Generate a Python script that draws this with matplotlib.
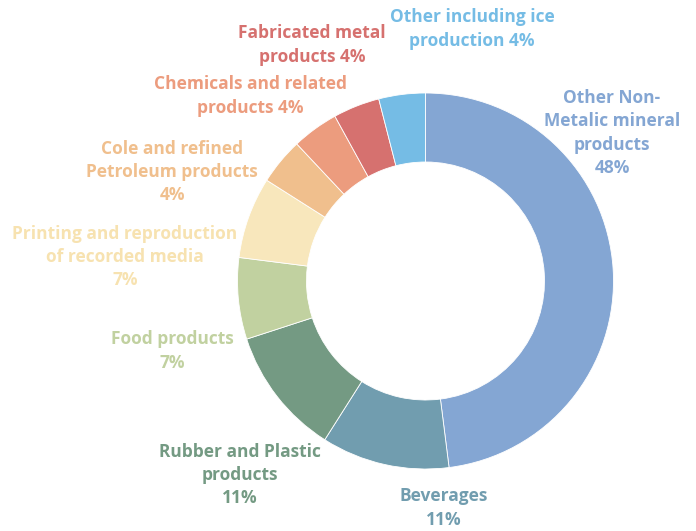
import matplotlib.pyplot as plt

# 데이터
labels = ['Other Non-\nMetalic mineral\nproducts\n48%', 'Beverages\n11%',
          'Rubber and Plastic\nproducts\n11%', 'Food products\n7%',
          'Printing and reproduction\nof recorded media\n7%',
          'Cole and refined\nPetroleum products\n4%',
          'Chemicals and related\nproducts 4%', 'Fabricated metal\nproducts 4%',
          'Other including ice\nproduction 4%']
shares = [48, 11, 11, 7, 7, 4, 4, 4, 4]
colors = ['#84A6D3', '#719DAF', '#749A83', '#C1D1A0', '#F8E7BC',
          '#F0BF8D', '#EC9C7E', '#D6716F', '#75BCE5']
text_colors = ['#84A6D3', '#719DAF', '#749A83', '#C1D1A0', '#F7E2B0',
               '#F0BF8D', '#EC9C7E', '#D6716F', '#75BCE5']

# 라벨 위치 (픽셀, 위에서부터)
label_pos = [(612, 133), (444, 508), (240, 475), (172, 351), (125, 257),
             (172, 172), (250, 96), (312, 45), (472, 29)]

W, H = 696, 531
fig = plt.figure(figsize=(W / 100, H / 100), dpi=100)
ax = fig.add_axes([0, 0, 1, 1])

ax.pie(shares, colors=colors, center=(425.5, H - 281), radius=188,
       startangle=90, counterclock=False, frame=True,
       wedgeprops=dict(width=69, edgecolor='white', linewidth=0.6))
ax.set_xlim(0, W)
ax.set_ylim(0, H)
ax.set_aspect('equal')
ax.axis('off')

for lab, (x, y), c in zip(labels, label_pos, text_colors):
    ax.text(x, H - y, lab, ha='center', va='center', color=c,
            fontsize=12.5, fontweight='bold', family='Open Sans', linespacing=1.38)

plt.savefig('out.png', dpi=100)
